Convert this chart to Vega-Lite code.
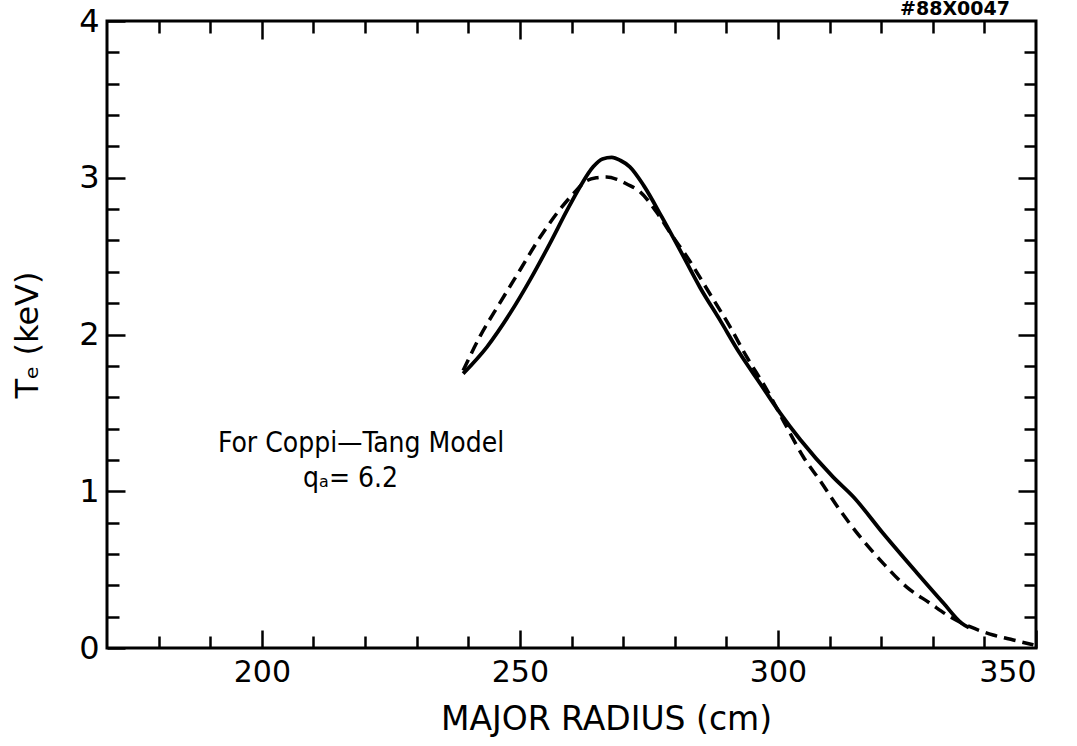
{
  "$schema": "https://vega.github.io/schema/vega-lite/v6.json",
  "autosize": {"type": "none"},
  "width": 929,
  "height": 627,
  "padding": {"left": 107, "top": 21, "right": 41, "bottom": 98},
  "background": "white",
  "config": {
    "view": {"stroke": "black", "strokeWidth": 3},
    "font": "DejaVu Sans"
  },
  "datasets": {
    "solid": [
      {"R": 239.0, "T": 1.75}, {"R": 243.6, "T": 1.92}, {"R": 248.1, "T": 2.135},
      {"R": 252.0, "T": 2.35}, {"R": 255.8, "T": 2.58}, {"R": 259.1, "T": 2.79},
      {"R": 261.6, "T": 2.94}, {"R": 264.2, "T": 3.07}, {"R": 266.0, "T": 3.12},
      {"R": 267.8, "T": 3.13}, {"R": 269.5, "T": 3.11}, {"R": 271.3, "T": 3.07},
      {"R": 274.0, "T": 2.95}, {"R": 277.5, "T": 2.75}, {"R": 281.0, "T": 2.54},
      {"R": 284.9, "T": 2.30}, {"R": 288.8, "T": 2.09}, {"R": 292.6, "T": 1.88},
      {"R": 296.5, "T": 1.69}, {"R": 300.4, "T": 1.50}, {"R": 304.3, "T": 1.33},
      {"R": 310.7, "T": 1.09}, {"R": 314.6, "T": 0.965}, {"R": 320.4, "T": 0.73},
      {"R": 326.9, "T": 0.48}, {"R": 332.1, "T": 0.285}, {"R": 335.6, "T": 0.158},
      {"R": 337.0, "T": 0.13}
    ],
    "dashed": [
      {"R": 239.0, "T": 1.77}, {"R": 242.3, "T": 1.99}, {"R": 246.1, "T": 2.20},
      {"R": 250.0, "T": 2.41}, {"R": 253.9, "T": 2.62}, {"R": 257.1, "T": 2.77},
      {"R": 260.4, "T": 2.90}, {"R": 262.9, "T": 2.98}, {"R": 264.8, "T": 3.00},
      {"R": 266.8, "T": 3.005}, {"R": 268.8, "T": 2.99}, {"R": 270.7, "T": 2.96},
      {"R": 273.3, "T": 2.91}, {"R": 276.5, "T": 2.78}, {"R": 279.5, "T": 2.63},
      {"R": 282.3, "T": 2.50}, {"R": 286.8, "T": 2.26}, {"R": 290.7, "T": 2.05},
      {"R": 293.9, "T": 1.86}, {"R": 297.8, "T": 1.65}, {"R": 301.7, "T": 1.41},
      {"R": 304.9, "T": 1.22}, {"R": 308.1, "T": 1.07}, {"R": 312.0, "T": 0.88},
      {"R": 315.9, "T": 0.71}, {"R": 320.4, "T": 0.54}, {"R": 324.9, "T": 0.39},
      {"R": 329.5, "T": 0.285}, {"R": 333.3, "T": 0.20}, {"R": 337.2, "T": 0.136},
      {"R": 341.7, "T": 0.083}, {"R": 345.6, "T": 0.051}, {"R": 349.5, "T": 0.02}
    ],
    "notes": [
      {"R": 191.5, "T": 1.25, "label": "For Coppi\u2014Tang Model"},
      {"R": 208.0, "T": 1.03, "label": "q\u2090= 6.2"}
    ],
    "header": [
      {"R": 334.3, "T": 4.036, "label": "#88X0047"}
    ]
  },
  "resolve": {"axis": {"x": "independent", "y": "independent"}},
  "layer": [
    {
      "data": {"name": "solid"},
      "mark": {"type": "line", "color": "black", "strokeWidth": 3.8, "interpolate": "monotone"},
      "encoding": {
        "x": {
          "field": "R", "type": "quantitative",
          "scale": {"domain": [170, 350], "nice": false, "zero": false},
          "axis": {
            "orient": "bottom",
            "title": "MAJOR RADIUS (cm)",
            "values": [180, 190, 200, 210, 220, 230, 240, 250, 260, 270, 280, 290, 300, 310, 320, 330, 340, 350],
            "labelExpr": "datum.value % 50 === 0 ? format(datum.value, 'd') : ''",
            "tickSize": {"condition": {"test": "datum.value % 50 === 0", "value": -18}, "value": -12},
            "tickColor": "black", "tickWidth": 2.5,
            "domain": false, "grid": false,
            "labelFontSize": 30, "labelColor": "black", "labelPadding": 27,
            "labelOverlap": false, "labelFlush": true,
            "titleFontSize": 33, "titleFontWeight": "normal", "titleColor": "black",
            "titleX": 499, "titleY": 81, "titleAlign": "center", "titleBaseline": "alphabetic"
          }
        },
        "y": {
          "field": "T", "type": "quantitative",
          "scale": {"domain": [0, 4], "nice": false, "zero": false},
          "axis": {
            "orient": "left",
            "title": "T\u2091 (keV)",
            "values": [0, 0.2, 0.4, 0.6, 0.8, 1, 1.2, 1.4, 1.6, 1.8, 2, 2.2, 2.4, 2.6, 2.8, 3, 3.2, 3.4, 3.6, 3.8, 4],
            "labelExpr": "datum.value % 1 === 0 ? format(datum.value, 'd') : ''",
            "tickSize": {"condition": {"test": "datum.value % 1 === 0", "value": -18}, "value": -12},
            "tickColor": "black", "tickWidth": 2.5,
            "domain": false, "grid": false,
            "labelFontSize": 32, "labelColor": "black", "labelPadding": 26,
            "labelOverlap": false, "labelFlush": false,
            "titleFontSize": 32, "titleFontWeight": "normal", "titleColor": "black", "titlePadding": 34
          }
        }
      }
    },
    {
      "data": {"name": "dashed"},
      "mark": {"type": "line", "color": "black", "strokeWidth": 3.5, "strokeDash": [12, 7], "interpolate": "monotone"},
      "encoding": {
        "x": {
          "field": "R", "type": "quantitative",
          "axis": {
            "orient": "top",
            "title": null,
            "values": [180, 190, 200, 210, 220, 230, 240, 250, 260, 270, 280, 290, 300, 310, 320, 330, 340],
            "labels": false,
            "tickSize": {"condition": {"test": "datum.value % 50 === 0", "value": -18}, "value": -12},
            "tickColor": "black", "tickWidth": 2.5,
            "domain": false, "grid": false
          }
        },
        "y": {
          "field": "T", "type": "quantitative",
          "axis": {
            "orient": "right",
            "title": null,
            "values": [0.2, 0.4, 0.6, 0.8, 1, 1.2, 1.4, 1.6, 1.8, 2, 2.2, 2.4, 2.6, 2.8, 3, 3.2, 3.4, 3.6, 3.8],
            "labels": false,
            "tickSize": {"condition": {"test": "datum.value % 1 === 0", "value": -18}, "value": -12},
            "tickColor": "black", "tickWidth": 2.5,
            "domain": false, "grid": false
          }
        }
      }
    },
    {
      "data": {"name": "notes"},
      "mark": {"type": "text", "align": "left", "baseline": "alphabetic", "fontSize": 28, "color": "black", "font": "Liberation Sans Narrow, DejaVu Sans Condensed, DejaVu Sans"},
      "encoding": {
        "x": {"field": "R", "type": "quantitative", "axis": null},
        "y": {"field": "T", "type": "quantitative", "axis": null},
        "text": {"field": "label"}
      }
    },
    {
      "data": {"name": "header"},
      "mark": {"type": "text", "align": "center", "baseline": "alphabetic", "fontSize": 19, "fontWeight": "bold", "color": "black", "font": "DejaVu Sans"},
      "encoding": {
        "x": {"field": "R", "type": "quantitative", "axis": null},
        "y": {"field": "T", "type": "quantitative", "axis": null},
        "text": {"field": "label"}
      }
    }
  ]
}
